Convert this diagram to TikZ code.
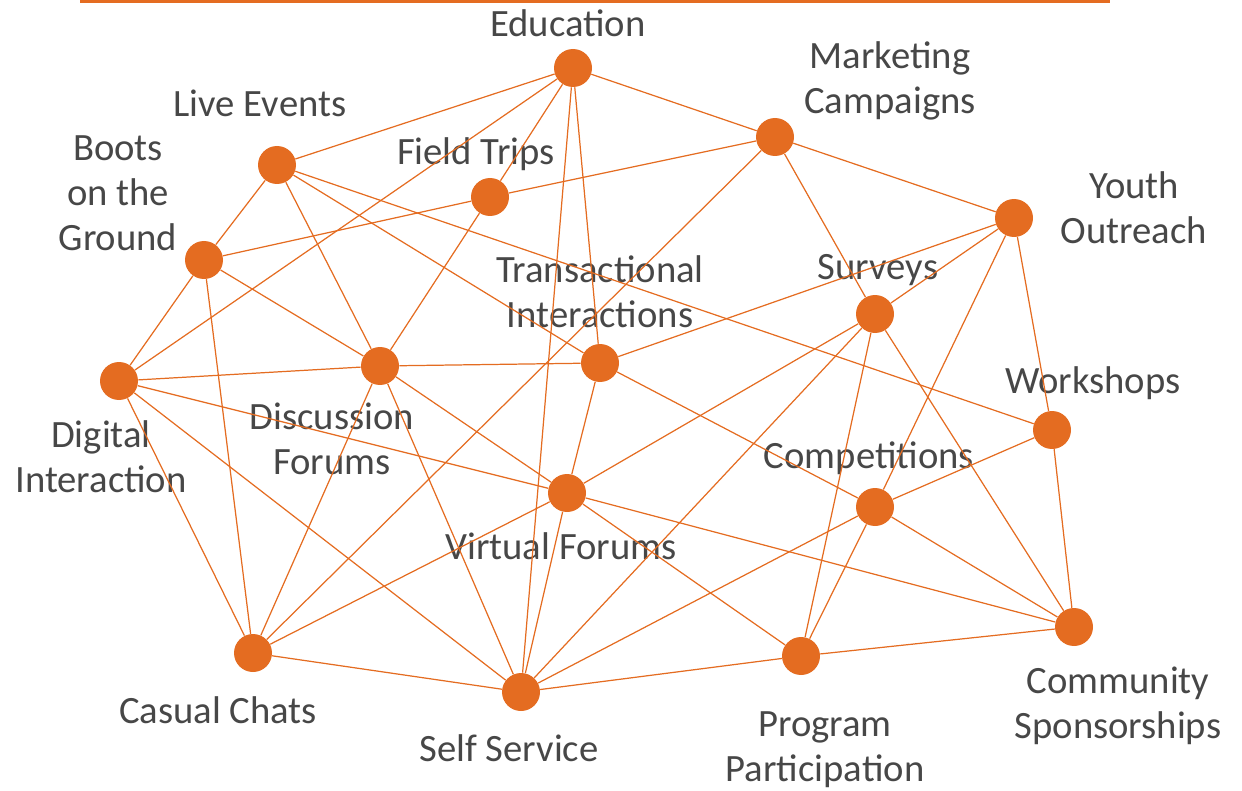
\documentclass[tikz,border=0pt]{standalone}
\usepackage{fontspec}
\setmainfont{Carlito}
\usetikzlibrary{arrows.meta,positioning}
\definecolor{hubor}{HTML}{E46C21}
\definecolor{txtgr}{HTML}{474747}
\tikzset{
  >=Stealth,
  hub/.style = {circle, fill=hubor, minimum size=7.6mm, inner sep=0pt},
  lbl/.style = {text=txtgr, align=center, inner sep=0pt,
                font=\fontsize{22}{25.6}\selectfont},
  link/.style = {draw=hubor, line width=0.7pt},
}

\begin{document}
\begin{tikzpicture}
  \useasboundingbox (0,0) rectangle (24.84,-15.82);
  \draw[hubor, line width=1.2pt] (1.6,-0.03) -- (22.2,-0.03);

  % hubs
  \node[hub] (edu)    at (11.46,-1.36) {};
  \node[hub] (mkt)    at (15.50,-2.74) {};
  \node[hub] (youth)  at (20.28,-4.36) {};
  \node[hub] (live)   at (5.54,-3.30)  {};
  \node[hub] (field)  at (9.80,-3.94)  {};
  \node[hub] (boots)  at (4.08,-5.20)  {};
  \node[hub] (surv)   at (17.50,-6.28) {};
  \node[hub] (trans)  at (12.00,-7.26) {};
  \node[hub] (digi)   at (2.38,-7.62)  {};
  \node[hub] (disc)   at (7.60,-7.32)  {};
  \node[hub] (work)   at (21.04,-8.60) {};
  \node[hub] (virt)   at (11.34,-9.86) {};
  \node[hub] (comp)   at (17.50,-10.14) {};
  \node[hub] (casual) at (5.06,-13.06) {};
  \node[hub] (self)   at (10.42,-13.84) {};
  \node[hub] (prog)   at (16.02,-13.12) {};
  \node[hub] (comm)   at (21.48,-12.54) {};

  % labels
  \node[lbl] (edu-t)    at (11.36,-0.46)  {Education};
  \node[lbl] (mkt-t)    at (17.80,-1.62)  {Marketing\\Campaigns};
  \node[lbl] (youth-t)  at (22.68,-4.16)  {Youth\\Outreach};
  \node[lbl] (live-t)   at (5.20,-2.06)   {Live Events};
  \node[lbl] (field-t)  at (9.52,-3.08)   {Field Trips};
  \node[lbl] (boots-t)  at (2.36,-3.86)   {Boots\\on the\\Ground};
  \node[lbl] (surv-t)   at (17.56,-5.40)  {Surveys};
  \node[lbl] (trans-t)  at (12.00,-5.84)  {Transactional\\Interactions};
  \node[lbl] (digi-t)   at (2.02,-9.14)   {Digital\\Interaction};
  \node[lbl] (disc-t)   at (6.64,-8.78)   {Discussion\\Forums};
  \node[lbl] (work-t)   at (21.86,-7.66)  {Workshops};
  \node[lbl] (comp-t)   at (17.38,-9.16)  {Competitions};
  \node[lbl] (virt-t)   at (11.22,-10.92) {Virtual Forums};
  \node[lbl] (casual-t) at (4.36,-14.20)  {Casual Chats};
  \node[lbl] (self-t)   at (10.18,-14.96) {Self Service};
  \node[lbl] (prog-t)   at (16.50,-15.00) {Program\\Participation};
  \node[lbl] (comm-t)   at (22.36,-14.12) {Community\\Sponsorships};

  % links
  \draw[link] (edu) -- (live);
  \draw[link] (edu) -- (mkt);
  \draw[link] (edu) -- (digi);
  \draw[link] (edu) -- (field);
  \draw[link] (edu) -- (trans);
  \draw[link] (edu) -- (self);
  \draw[link] (live) -- (boots);
  \draw[link] (live) -- (disc);
  \draw[link] (live) -- (trans);
  \draw[link] (live) -- (work);
  \draw[link] (boots) -- (field);
  \draw[link] (boots) -- (digi);
  \draw[link] (boots) -- (casual);
  \draw[link] (boots) -- (disc);
  \draw[link] (field) -- (disc);
  \draw[link] (field) -- (mkt);
  \draw[link] (digi) -- (disc);
  \draw[link] (digi) -- (virt);
  \draw[link] (digi) -- (self);
  \draw[link] (digi) -- (casual);
  \draw[link] (disc) -- (trans);
  \draw[link] (disc) -- (virt);
  \draw[link] (disc) -- (self);
  \draw[link] (disc) -- (casual);
  \draw[link] (trans) -- (youth);
  \draw[link] (trans) -- (virt);
  \draw[link] (trans) -- (comp);
  \draw[link] (mkt) -- (youth);
  \draw[link] (mkt) -- (surv);
  \draw[link] (mkt) -- (casual);
  \draw[link] (youth) -- (surv);
  \draw[link] (youth) -- (comp);
  \draw[link] (youth) -- (work);
  \draw[link] (surv) -- (virt);
  \draw[link] (surv) -- (self);
  \draw[link] (surv) -- (prog);
  \draw[link] (surv) -- (comm);
  \draw[link] (work) -- (comp);
  \draw[link] (work) -- (comm);
  \draw[link] (comp) -- (prog);
  \draw[link] (comp) -- (comm);
  \draw[link] (comp) -- (self);
  \draw[link] (virt) -- (comm);
  \draw[link] (virt) -- (prog);
  \draw[link] (virt) -- (casual);
  \draw[link] (virt) -- (self);
  \draw[link] (self) -- (casual);
  \draw[link] (self) -- (prog);
  \draw[link] (prog) -- (comm);
\end{tikzpicture}
\end{document}
